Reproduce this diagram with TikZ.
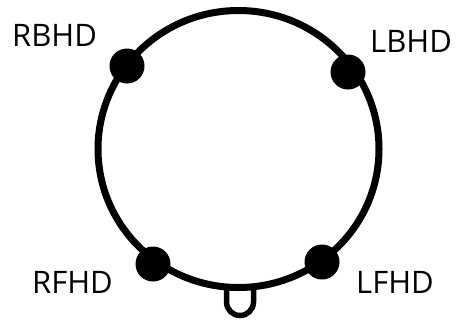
\documentclass[tikz,border=0pt]{standalone}
\usepackage{fontspec}
\setmainfont{Open Sans}
\begin{document}
\begin{tikzpicture}[x=1pt,y=-1pt,
  head/.style={line width=7pt},
  nose/.style={line width=5.5pt},
  electrode/.style={circle,fill=black,minimum size=35pt,inner sep=0pt},
  lbl/.style={font=\fontsize{31}{34}\selectfont,inner sep=0pt}]
\useasboundingbox (0,0) rectangle (460,330);
\draw[nose] (226.5,284) -- (226.5,302) arc[start angle=180,end angle=0,radius=13.5] -- (253.5,284);
\draw[head,fill=white] (238.5,149) ellipse[x radius=140.5,y radius=138.5];
\node[electrode] (rbhd) at (127,66) {};
\node[electrode] (lbhd) at (348,72) {};
\node[electrode] (rfhd) at (153,264) {};
\node[electrode] (lfhd) at (322,262) {};
\node[lbl,anchor=west] (trbhd) at (12,35) {RBHD};
\node[lbl,anchor=west] (tlbhd) at (370,41) {LBHD};
\node[lbl,anchor=west] (trfhd) at (32,282) {RFHD};
\node[lbl,anchor=west] (tlfhd) at (356,282) {LFHD};
\end{tikzpicture}
\end{document}
